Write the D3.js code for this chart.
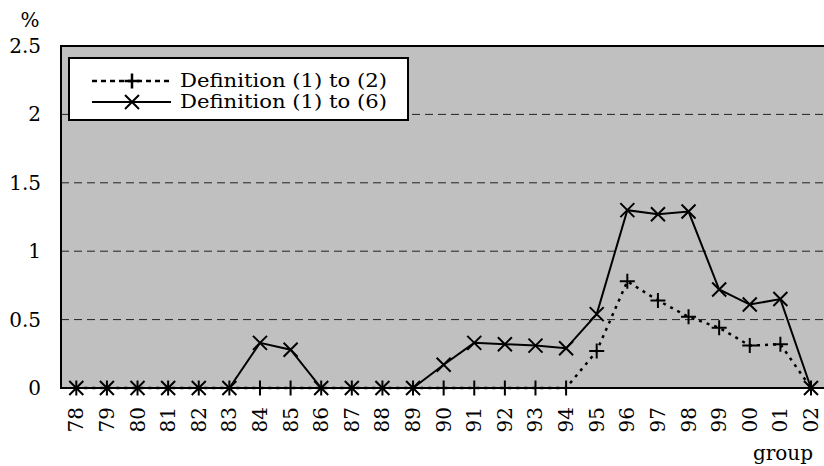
<!DOCTYPE html>
<html><head><meta charset="utf-8">
<script src="https://cdn.jsdelivr.net/npm/d3@7"></script>
<style>body{margin:0;background:#fff;} svg{display:block;}</style>
</head><body>
<svg id="c" width="824" height="466"></svg>
<script>
const categories = ["78","79","80","81","82","83","84","85","86","87","88","89","90","91","92","93","94","95","96","97","98","99","00","01","02"];
const def1to2 = [0,0,0,0,0,0,0,0,0,0,0,0,0,0,0,0,0,0.27,0.78,0.64,0.52,0.44,0.31,0.32,0];
const def1to6 = [0,0,0,0,0,0,0.33,0.28,0,0,0,0,0.17,0.33,0.32,0.31,0.29,0.54,1.30,1.27,1.29,0.72,0.61,0.65,0];
const yTicks = [0,0.5,1,1.5,2,2.5];
const seriesNames = ["Definition (1) to (2)","Definition (1) to (6)"];

const FONT = "DejaVu Serif";
const svg = d3.select("#c").attr("font-family", FONT);
const L = 61, T = 46, R = 826.3, B = 388;
const x = d3.scaleBand().domain(categories).range([L, R]);
const y = d3.scaleLinear().domain([0, 2.5]).range([B, T]);
const cx = d => x(d) + x.bandwidth()/2;

svg.append("rect").attr("x", L).attr("y", T).attr("width", R-L).attr("height", B-T).attr("fill", "#c0c0c0");

// gridlines
svg.append("g").selectAll("line").data(yTicks.filter(v => v>0 && v<2.5)).join("line")
  .attr("x1", L).attr("x2", R).attr("y1", d=>y(d)).attr("y2", d=>y(d))
  .attr("stroke", "#222").attr("stroke-width", 1).attr("stroke-dasharray", "8,5");

// borders
svg.append("line").attr("x1", L).attr("x2", R).attr("y1", T).attr("y2", T).attr("stroke","#000").attr("stroke-width",2);
svg.append("line").attr("x1", L).attr("x2", L).attr("y1", T-1).attr("y2", B+1).attr("stroke","#000").attr("stroke-width",2);
svg.append("line").attr("x1", L).attr("x2", R).attr("y1", B).attr("y2", B).attr("stroke","#000").attr("stroke-width",2);

// y tick labels
svg.append("g").selectAll("text").data(yTicks).join("text")
  .attr("font-family", FONT)
  .attr("x", 41).attr("y", d=>y(d)).attr("dy","0.35em").attr("text-anchor","end")
  .attr("font-size", 20).text(d => d3.format("")(d));
svg.append("text").attr("font-family", FONT).attr("x", 30).attr("y", 20).attr("dy","0.35em").attr("text-anchor","middle").attr("font-size",20).text("%");

// x tick labels
svg.append("g").selectAll("text").data(categories).join("text")
  .attr("font-family", FONT)
  .attr("transform", d => `translate(${cx(d)},407) rotate(-90)`)
  .attr("dy","0.35em").attr("text-anchor","end").attr("font-size",20).text(d=>d);
svg.append("text").attr("font-family", FONT).attr("x", 813).attr("y", 453).attr("dy","0.35em").attr("text-anchor","end").attr("font-size",20).text("group");

const line = d3.line().x((d,i)=>cx(categories[i])).y(d=>y(d));
const plusPath = (s) => `M${-s},0H${s}M0,${-s}V${s}`;
const crossPath = (s) => `M${-s},${-s}L${s},${s}M${-s},${s}L${s},${-s}`;

// series 2 (solid, x)
svg.append("path").attr("d", line(def1to6)).attr("fill","none").attr("stroke","#000").attr("stroke-width",2);
svg.append("g").selectAll("path").data(def1to6).join("path")
  .attr("transform",(d,i)=>`translate(${cx(categories[i])},${y(d)})`)
  .attr("d", crossPath(7)).attr("stroke","#000").attr("stroke-width",2).attr("fill","none");
// series 1 (dotted, plus)
svg.append("path").attr("d", line(def1to2)).attr("fill","none").attr("stroke","#000").attr("stroke-width",2.5).attr("stroke-dasharray","3,5");
svg.append("g").selectAll("path").data(def1to2).join("path")
  .attr("transform",(d,i)=>`translate(${cx(categories[i])},${y(d)})`)
  .attr("d", plusPath(7.5)).attr("stroke","#000").attr("stroke-width",2).attr("fill","none");

// legend
const lg = svg.append("g");
lg.append("rect").attr("x",69).attr("y",58).attr("width",339).attr("height",62).attr("fill","#fff").attr("stroke","#000").attr("stroke-width",2);
const rows = [81, 102];
lg.append("line").attr("x1",92).attr("x2",171).attr("y1",rows[0]).attr("y2",rows[0]).attr("stroke","#000").attr("stroke-width",2.5).attr("stroke-dasharray","5,4");
lg.append("path").attr("transform",`translate(132,${rows[0]})`).attr("d",plusPath(7.5)).attr("stroke","#000").attr("stroke-width",2.5);
lg.append("line").attr("x1",92).attr("x2",171).attr("y1",rows[1]).attr("y2",rows[1]).attr("stroke","#000").attr("stroke-width",2);
lg.append("path").attr("transform",`translate(132,${rows[1]})`).attr("d",crossPath(7)).attr("stroke","#000").attr("stroke-width",2);
lg.selectAll("text.l").data(seriesNames).join("text").attr("class","l")
  .attr("font-family", FONT)
  .attr("x",180).attr("y",(d,i)=>rows[i]).attr("dy","0.35em").attr("font-size",18).attr("textLength",207).attr("lengthAdjust","spacingAndGlyphs").text(d=>d);
</script>
</body></html>
